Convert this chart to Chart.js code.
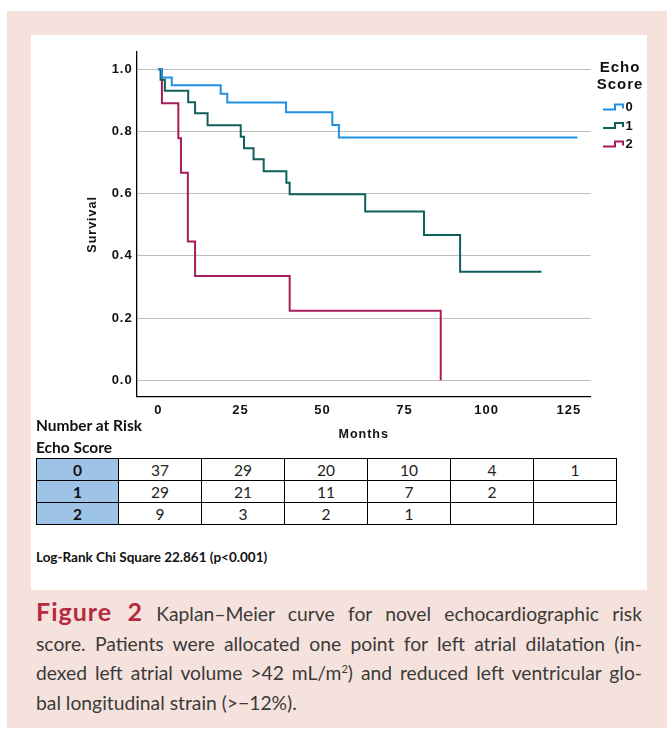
<!DOCTYPE html>
<html><head><meta charset="utf-8">
<script src="https://cdn.jsdelivr.net/npm/chart.js@4.4.1/dist/chart.umd.min.js"></script>
<style>
html,body{margin:0;padding:0;background:#fff;}
body{width:667px;height:732px;position:relative;overflow:hidden;font-family:Lato,sans-serif;}
#pink{position:absolute;left:7px;top:11px;width:660px;height:717px;background:#f6e2dd;}
#white{position:absolute;left:31px;top:35px;width:616px;height:555px;background:#fff;}
#chart{position:absolute;left:31px;top:35px;}
.lbl{position:absolute;left:36px;font-weight:bold;font-size:15.5px;color:#111;line-height:18px;}
table{position:absolute;left:36px;top:458px;border-collapse:collapse;font-family:Lato,sans-serif;font-size:15.5px;table-layout:fixed;}
td{border:1px solid #000;height:21px;padding:0;text-align:center;color:#222;line-height:18px;}
td.h{background:#9dc3e6;font-weight:bold;color:#111;}
#lr{position:absolute;left:36px;top:549px;font-weight:bold;font-size:13.5px;color:#111;}
#cap{position:absolute;left:36px;top:597px;width:606px;font-size:19.3px;line-height:29.5px;color:#3a3a3a;}
#cap div{text-align:justify;text-align-last:justify;}
#cap div.last{text-align-last:left;}
.fig{color:#b52a3e;font-weight:bold;font-size:25px;letter-spacing:1px;}
sup{font-size:11px;line-height:0;}
</style>
</head>
<body>
<div id="pink"></div>
<div id="white"></div>
<canvas id="chart" width="616" height="420"></canvas>
<div class="lbl" style="top:416px">Number at Risk</div>
<div class="lbl" style="top:438px">Echo Score</div>
<table id="risk"></table>
<div id="lr">Log-Rank Chi Square 22.861 (p&lt;0.001)</div>
<div id="cap">
<div><span class="fig">Figure 2</span> Kaplan–Meier curve for novel echocardiographic risk</div>
<div>score. Patients were allocated one point for left atrial dilatation (in-</div>
<div>dexed left atrial volume &gt;42 mL/m<sup>2</sup>) and reduced left ventricular glo-</div>
<div class="last">bal longitudinal strain (&gt;−12%).</div>
</div>
<script>
// ---- data ----
const xTicks = [0, 25, 50, 75, 100, 125];
const yTicks = [0, 0.2, 0.4, 0.6, 0.8, 1.0];
const groupLabels = ['0', '1', '2'];

const group0Months   = [0, 1.1, 4.1, 19, 21, 38.9, 53, 55, 127.6];
const group0Survival = [1, 0.974, 0.949, 0.921, 0.893, 0.862, 0.821, 0.781, 0.781];

const group1Months   = [0, 0.7, 2, 9.1, 11.2, 15, 25.1, 26.1, 29, 32.1, 39, 40, 63, 80.9, 91.9, 116.7];
const group1Survival = [1, 0.966, 0.931, 0.894, 0.859, 0.820, 0.783, 0.746, 0.711, 0.672, 0.635, 0.598, 0.543, 0.467, 0.349, 0.349];

const group2Months   = [0, 1.1, 6.1, 6.9, 9, 11.2, 40, 86];
const group2Survival = [1, 0.891, 0.778, 0.667, 0.446, 0.335, 0.224, 0];

const riskHeader = ['0', '1', '2'];
const riskRow0 = ['37', '29', '20', '10', '4', '1'];
const riskRow1 = ['29', '21', '11', '7', '2', ''];
const riskRow2 = ['9', '3', '2', '1', '', ''];

// ---- table ----
(function(){
  const t = document.getElementById('risk');
  let h = '<colgroup><col style="width:82px">';
  for (let i = 0; i < 6; i++) h += '<col style="width:83px">';
  h += '</colgroup>';
  [riskRow0, riskRow1, riskRow2].forEach((r, i) => {
    h += '<tr><td class="h">' + riskHeader[i] + '</td>' + r.map(v => '<td>' + v + '</td>').join('') + '</tr>';
  });
  t.innerHTML = h;
})();

// ---- chart ----
const colors = ['#1e90e6', '#0f5f5a', '#a51c5a'];
const mk = (months, surv, color) => ({
  data: months.map((m, i) => ({x: m, y: surv[i]})),
  borderColor: color, borderWidth: 2, stepped: true, pointRadius: 0, fill: false
});
const tickFont = {family: 'Liberation Sans', weight: 'bold', size: 13};
const titleFont = {family: 'Liberation Sans', weight: 'bold', size: 12.5};

const spacing = { id: 'spacing', beforeDraw(chart){ chart.ctx.letterSpacing = '1px'; } };
const legendPlugin = {
  id: 'kmLegend',
  afterDraw(chart){
    const c = chart.ctx;
    c.save();
    c.letterSpacing = '1px';
    c.fillStyle = '#111';
    c.font = 'bold 15px "Liberation Sans"';
    c.textAlign = 'center';
    c.textBaseline = 'middle';
    c.fillText('Echo', 589, 33);
    c.fillText('Score', 589, 49.5);
    c.font = 'bold 13px "Liberation Sans"';
    c.textAlign = 'left';
    groupLabels.forEach((l, i) => {
      const y = 72.5 + i * 18.5;
      c.strokeStyle = colors[i];
      c.lineWidth = 2;
      c.beginPath();
      c.moveTo(572, y + 2);
      c.lineTo(584, y + 2);
      c.lineTo(584, y - 3);
      c.lineTo(592, y - 3);
      c.lineTo(592, y + 1);
      c.stroke();
      c.fillText(l, 594.5, y);
    });
    c.restore();
  }
};

new Chart(document.getElementById('chart').getContext('2d'), {
  type: 'line',
  data: { datasets: [
    mk(group0Months, group0Survival, colors[0]),
    mk(group1Months, group1Survival, colors[1]),
    mk(group2Months, group2Survival, colors[2])
  ]},
  options: {
    responsive: false, animation: false, devicePixelRatio: 1,
    layout: { padding: { left: 0, top: 17, right: 56.3, bottom: 0 } },
    plugins: { legend: { display: false }, tooltip: { enabled: false } },
    scales: {
      x: {
        type: 'linear', min: -6.58, max: 131.67,
        afterBuildTicks: s => { s.ticks = xTicks.map(v => ({value: v})); },
        afterFit: s => { s.height = 58.3; },
        grid: { display: false, drawTicks: false },
        border: { display: true, color: '#000', width: 1.3 },
        ticks: { padding: 5.5, font: tickFont, color: '#111', callback: v => String(v) },
        title: { display: true, text: 'Months', font: titleFont, color: '#111', padding: { top: 0, bottom: 12.5 } }
      },
      y: {
        type: 'linear', min: -0.0527, max: 1.0556,
        afterBuildTicks: s => { s.ticks = yTicks.map(v => ({value: v})); },
        afterFit: s => { s.width = 105.7; },
        grid: { color: '#bdbdbd', lineWidth: 1, drawTicks: false },
        border: { display: true, color: '#000', width: 1.3 },
        ticks: { padding: 4, font: tickFont, color: '#111', callback: v => v.toFixed(1) },
        title: { display: true, text: 'Survival', font: titleFont, color: '#111', padding: { top: 54.5, bottom: 0 } }
      }
    }
  },
  plugins: [spacing, legendPlugin]
});
</script>
</body></html>
